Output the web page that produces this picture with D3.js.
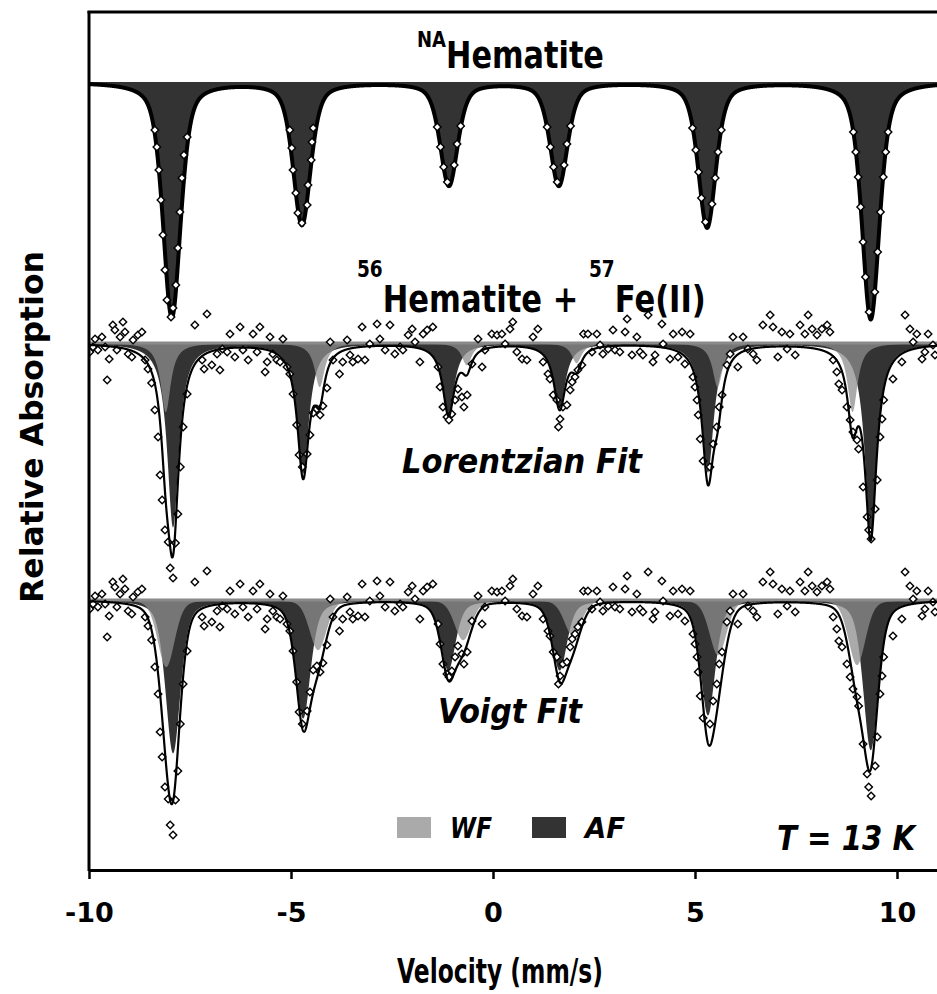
<!DOCTYPE html>
<html><head><meta charset="utf-8">
<script src="https://cdn.jsdelivr.net/npm/d3@7"></script>
<style>
body{margin:0;background:#fff}
svg{display:block}
text{font-family:"DejaVu Sans","Open Sans",sans-serif;font-weight:700;fill:#000}
</style>
</head><body>
<svg id="chart" width="937" height="994"></svg>
<script>
// ---------------- data ----------------
const xTicks = [-10, -5, 0, 5, 10];
const spectrumBaselines = [78.8, 52.7, 27.0];   // relative absorption offsets (top, Lorentzian, Voigt)

// NA hematite (top) : AF sextet
const naPos   = [-7.95, -4.73, -1.09, 1.63, 5.30, 9.35];
const naDepth = [23.5, 14.2, 10.3, 10.3, 14.5, 23.7];
const naFwhm = 0.52, naEta = 0.5;

// 56Hematite + 57Fe(II), Lorentzian fit
const lorAFPos   = [-7.92, -4.70, -1.10, 1.65, 5.32, 9.35];
const lorAFDepth = [18.4, 13.0, 7.0, 6.4, 12.9, 19.0];
const lorWFPos   = [-8.10, -4.29, -0.65, 2.07, 5.56, 8.90];
const lorWFDepth = [6.9, 4.4, 2.2, 2.0, 4.4, 6.9];
const lorAFFwhm = 0.35, lorWFFwhm = 0.30;

// Voigt fit
const voiAFPos   = [-7.92, -4.70, -1.11, 1.65, 5.32, 9.35];
const voiAFDepth = [15.3, 11.8, 7.0, 7.0, 11.5, 15.0];
const voiWFPos   = [-8.09, -4.33, -0.74, 1.98, 5.57, 9.01];
const voiWFDepth = [6.7, 5.0, 4.0, 3.6, 5.5, 6.5];
const voiAFFwhm = 0.44, voiAFEta = 0.5, voiWFFwhm = 0.50, voiWFEta = 0.25;

// measured points, top spectrum [velocity, absorption]
const naData = [
 [-8.37,4.8],[-8.32,6.5],[-8.27,8.8],[-8.22,11.8],[-8.17,15.3],[-8.12,18.8],[-8.07,21.8],[-7.97,23.5],
 [-7.92,22.6],[-7.85,20.3],[-7.80,16.6],[-7.75,13.0],[-7.70,9.6],[-7.65,7.3],[-7.57,5.5],
 [-5.03,4.8],[-4.98,6.6],[-4.95,8.8],[-4.88,11.1],[-4.83,13.1],[-4.73,14.1],[-4.60,12.3],[-4.58,10.3],[-4.50,7.8],[-4.48,6.0],[-4.45,4.6],
 [-1.38,4.5],[-1.30,6.5],[-1.22,8.5],[-1.13,10.0],[-0.96,8.3],[-0.89,6.2],[-0.80,4.4],
 [1.34,4.5],[1.42,6.5],[1.50,8.5],[1.59,10.0],[1.76,8.3],[1.83,6.2],[1.92,4.4],
 [4.94,4.6],[5.02,6.8],[5.09,9.0],[5.16,11.6],[5.26,14.0],[5.42,12.2],[5.50,9.6],[5.57,7.0],[5.65,4.8],
 [8.92,5.0],[8.98,7.0],[9.04,9.5],[9.10,12.5],[9.16,16.0],[9.22,19.5],[9.31,23.0],[9.45,21.0],[9.52,17.0],[9.59,13.0],[9.66,9.5],[9.72,7.0],[9.78,5.0]
];

// measured points, 56Hematite + 57Fe(II) [velocity, absorption]
const hemData = [
 [-9.98,0.9],[-9.90,0.4],[-9.85,-0.4],[-9.78,0.7],[-9.68,-0.6],[-9.60,0.4],[-9.55,3.7],[-9.50,1.6],
 [-9.41,-1.8],[-9.36,-1.3],[-9.31,0.7],[-9.23,-0.6],[-9.16,-2.1],[-9.11,-1.1],[-9.03,1.1],[-8.94,1.4],
 [-8.91,-0.3],[-8.79,-0.8],[-8.69,-1.1],[-8.61,1.7],[-8.54,2.6],[-8.45,4.0],[-8.37,6.7],[-8.29,9.4],
 [-8.24,13.2],[-8.19,15.7],[-8.12,18.7],[-8.04,19.9],[-7.99,22.5],[-7.92,23.5],[-7.86,20.0],[-7.80,17.1],
 [-7.74,12.4],[-7.67,8.4],[-7.57,5.1],[-7.38,-1.8],[-7.20,1.7],[-7.15,2.6],[-7.08,-2.9],[-6.96,2.2],
 [-6.83,1.1],[-6.76,2.7],[-6.70,0.6],[-6.58,0.9],[-6.51,-0.9],[-6.39,1.4],[-6.26,-1.6],[-6.19,0.7],
 [-6.06,1.7],[-5.94,-0.9],[-5.84,0.9],[-5.77,-1.6],[-5.64,2.9],[-5.59,1.9],[-5.52,-0.6],[-5.45,1.1],
 [-5.35,1.7],[-5.27,1.9],[-5.20,-0.4],[-5.10,2.4],[-5.03,3.1],[-4.95,5.1],[-4.86,8.2],[-4.80,11.2],
 [-4.72,12.4],[-4.60,11.1],[-4.53,9.2],[-4.45,7.0],[-4.36,6.6],[-4.28,7.2],[-4.21,6.3],[-4.11,4.5],
 [-4.03,-0.1],[-3.96,1.7],[-3.80,3.1],[-3.72,1.9],[-3.61,-0.3],[-3.54,1.2],[-3.47,1.9],[-3.34,1.6],
 [-3.24,-1.6],[-3.17,1.7],[-3.05,0.1],[-2.87,-1.9],[-2.80,-0.4],[-2.67,0.7],[-2.55,-1.8],[-2.43,1.1],
 [-2.30,0.4],[-2.23,0.7],[-2.10,-0.8],[-2.00,-1.4],[-1.93,-0.1],[-1.81,1.9],[-1.73,-0.9],[-1.63,-1.3],
 [-1.49,-1.6],[-1.36,2.4],[-1.31,4.4],[-1.24,6.4],[-1.14,7.4],[-1.09,7.7],[-1.02,7.1],[-0.94,5.7],
 [-0.87,4.6],[-0.77,5.4],[-0.72,6.4],[-0.64,5.2],[-0.52,2.1],[-0.37,-0.4],[-0.27,2.4],[-0.20,0.7],
 [-0.03,-0.9],[0.10,-0.8],[0.22,-0.9],[0.30,0.1],[0.42,-1.4],[0.49,-2.1],[0.59,0.9],[0.72,1.6],
 [0.84,1.7],[0.99,-0.6],[1.11,-1.4],[1.24,1.9],[1.36,3.1],[1.41,3.6],[1.49,5.2],[1.58,5.7],
 [1.62,8.4],[1.66,7.6],[1.73,6.4],[1.83,6.2],[1.91,4.7],[1.96,3.9],[2.03,3.4],[2.10,2.7],
 [2.20,2.2],[2.24,-0.9],[2.35,-0.9],[2.45,0.9],[2.57,-0.9],[2.65,0.2],[2.72,1.1],[2.85,0.6],
 [2.97,-1.3],[3.02,0.7],[3.14,0.9],[3.27,-1.1],[3.32,-2.4],[3.44,1.2],[3.56,-0.6],[3.64,0.9],
 [3.71,1.2],[3.84,-2.8],[3.96,1.9],[4.01,1.2],[4.18,-1.9],[4.21,0.1],[4.38,1.6],[4.46,-0.9],
 [4.58,1.4],[4.68,-1.1],[4.75,2.1],[4.88,-0.9],[4.95,3.4],[5.00,4.4],[5.05,5.7],[5.08,7.2],
 [5.13,9.6],[5.20,11.8],[5.37,12.4],[5.45,10.1],[5.54,8.4],[5.60,6.4],[5.67,5.2],[5.79,2.2],
 [5.87,1.1],[5.94,-0.6],[6.06,2.4],[6.19,-0.6],[6.31,0.6],[6.44,1.1],[6.53,1.7],[6.68,-1.8],
 [6.86,-2.8],[6.93,-1.6],[7.05,1.4],[7.15,-1.1],[7.28,0.6],[7.35,-0.9],[7.48,1.2],[7.60,-1.8],
 [7.72,-0.9],[7.80,-2.8],[7.90,-1.4],[8.02,-0.8],[8.14,-1.4],[8.27,-1.8],[8.34,-1.1],[8.42,1.7],
 [8.51,2.9],[8.56,4.1],[8.64,4.7],[8.76,6.4],[8.84,7.7],[8.91,8.9],[9.01,9.7],[9.05,10.6],
 [9.16,14.4],[9.26,17.4],[9.30,18.7],[9.36,19.6],[9.46,16.6],[9.51,13.7],[9.58,9.4],[9.63,7.6],
 [9.67,5.7],[9.90,3.6],[10.12,1.9],[10.20,-2.8],[10.32,-1.4],[10.40,-0.1],[10.49,-0.9],[10.62,1.6],
 [10.69,0.9],[10.77,-0.9],[10.89,0.2],[10.94,1.2]
];

const legendItems = ["WF", "AF"];

// ---------------- chart ----------------
const svg = d3.select("#chart");
const x = d3.scaleLinear().domain([-10, 11]).range([89, 937.4]);
const y = d3.scaleLinear().domain([0, 85.8]).range([870, 12]);

const grid = d3.range(-10.3, 11.3, 0.004);
function profile(pos, depth, fwhm, eta) {
  return v => {
    let s = 0;
    for (let i = 0; i < pos.length; i++) {
      const t = (v - pos[i]) / (fwhm / 2);
      s += depth[i] * (eta / (1 + t * t) + (1 - eta) * Math.exp(-Math.LN2 * t * t));
    }
    return s;
  };
}

svg.append("defs").append("clipPath").attr("id", "plotclip")
  .append("rect").attr("x", 89).attr("y", 12).attr("width", 937 - 89).attr("height", 870 - 12);
const plot = svg.append("g").attr("clip-path", "url(#plotclip)");

const AF_COLOR = "#333333", WF_COLOR = "#8e8e8e", WF_OPACITY = 0.75;
const diamond = d3.symbol().type(d3.symbolSquare).size(28);

function drawArea(base, f, fill, opacity) {
  const area = d3.area().x(v => x(v)).y0(y(base)).y1(v => y(base - f(v)));
  plot.append("path").datum(grid).attr("d", area).attr("fill", fill).attr("fill-opacity", opacity);
}
function drawLine(base, f, width, color) {
  const line = d3.line().x(v => x(v)).y(v => y(base - f(v)));
  plot.append("path").datum(grid).attr("d", line).attr("fill", "none")
    .attr("stroke", color).attr("stroke-width", width).attr("stroke-linejoin", "round");
}
function drawPoints(base, data) {
  plot.append("g").selectAll("path").data(data).join("path")
    .attr("d", diamond)
    .attr("transform", d => `translate(${x(d[0])},${y(base - d[1])}) rotate(45)`)
    .attr("fill", "#fff").attr("stroke", "#000").attr("stroke-width", 1.4);
}
function drawBaseline(base) {
  plot.append("line").attr("x1", x(-10.5)).attr("x2", x(11.5))
    .attr("y1", y(base)).attr("y2", y(base)).attr("stroke", "#8a8a8a").attr("stroke-width", 3);
}

// top spectrum
{
  const b = spectrumBaselines[0];
  const f = profile(naPos, naDepth, naFwhm, naEta);
  drawArea(b, f, AF_COLOR, 1);
  drawLine(b, f, 4, "#000");
  drawPoints(b, naData);
}
// Lorentzian
{
  const b = spectrumBaselines[1];
  const af = profile(lorAFPos, lorAFDepth, lorAFFwhm, 1);
  const wf = profile(lorWFPos, lorWFDepth, lorWFFwhm, 1);
  drawArea(b, af, AF_COLOR, 1);
  drawArea(b, wf, WF_COLOR, WF_OPACITY);
  drawBaseline(b);
  drawPoints(b, hemData);
  drawLine(b, v => af(v) + wf(v), 2.2, "#000");
}
// Voigt
{
  const b = spectrumBaselines[2];
  const af = profile(voiAFPos, voiAFDepth, voiAFFwhm, voiAFEta);
  const wf = profile(voiWFPos, voiWFDepth, voiWFFwhm, voiWFEta);
  drawArea(b, af, AF_COLOR, 1);
  drawArea(b, wf, WF_COLOR, WF_OPACITY);
  drawBaseline(b);
  drawPoints(b, hemData);
  drawLine(b, v => af(v) + wf(v), 2.2, "#000");
}

// axes
const xAxis = d3.axisBottom(x).tickValues(xTicks).tickSize(9).tickSizeOuter(0).tickPadding(14)
  .tickFormat(d => String(d));
const gx = svg.append("g").attr("transform", "translate(0,870)").call(xAxis);
gx.attr("font-family", null).attr("font-size", null);
gx.select(".domain").attr("stroke-width", 3).attr("stroke", "#000");
gx.selectAll(".tick line").attr("stroke-width", 2.5).attr("stroke", "#000");
gx.selectAll(".tick text").attr("dy", null).attr("y", 52)
  .style("font-size", "27px").style("font-family", '"DejaVu Sans","Open Sans",sans-serif').style("font-weight", 700);

svg.append("line").attr("x1", 89).attr("x2", 89).attr("y1", 11).attr("y2", 871)
  .attr("stroke", "#000").attr("stroke-width", 3);
svg.append("line").attr("x1", 87.5).attr("x2", 937).attr("y1", 12).attr("y2", 12)
  .attr("stroke", "#000").attr("stroke-width", 3);

// titles with superscripts: one text each, squeezed horizontally to the reference width
function superTitle(parts, x0, width, baseY, mainSize, supSize, supRise) {
  const g = svg.append("g");
  const t = g.append("text").attr("x", 0).attr("y", baseY);
  let cur = 0;
  parts.forEach(p => {
    const shift = (p.sup ? -supRise : 0) - cur;
    cur += shift;
    t.append("tspan").attr("dy", shift).style("font-size", (p.sup ? supSize : mainSize) + "px")
      .text(p.text);
  });
  const bb = t.node().getBBox();
  const s = width / bb.width;
  g.attr("transform", `translate(${x0 - bb.x * s},0) scale(${s},1)`);
}
superTitle([{text: "NA", sup: true}, {text: "Hematite"}], 417, 187, 68, 37, 22, 21);
superTitle([{text: "56", sup: true}, {text: "Hematite + "}, {text: "57", sup: true}, {text: "Fe(II)"}],
  357, 349, 312, 38, 23, 35);

function txt(t, xx, yy, size, opts = {}) {
  const e = svg.append("text").attr("x", xx).attr("y", yy).style("font-size", size + "px").text(t);
  if (opts.italic) e.style("font-style", "italic");
  if (opts.len) e.attr("textLength", opts.len).attr("lengthAdjust", "spacingAndGlyphs");
  if (opts.anchor) e.attr("text-anchor", opts.anchor);
  return e;
}
txt("Lorentzian Fit", 402, 473, 33, {italic: true, len: 240});
txt("Voigt Fit", 438, 723, 33, {italic: true, len: 144});
txt("T = 13 K", 777, 850, 33, {italic: true, len: 138});

// legend
const legendX = [397, 532];
const legendColors = ["#aaaaaa", AF_COLOR];
legendItems.forEach((name, i) => {
  svg.append("rect").attr("x", legendX[i]).attr("y", 817).attr("width", 34).attr("height", 21)
    .attr("fill", legendColors[i]);
  txt(name, legendX[i] + 53, 838, 29, {italic: true, len: i === 0 ? 42 : 40});
});

// axis titles
txt("Velocity (mm/s)", 500, 983, 33, {anchor: "middle", len: 206});
svg.append("text").attr("transform", "translate(43,427) rotate(-90)").attr("text-anchor", "middle")
  .attr("textLength", 352).attr("lengthAdjust", "spacingAndGlyphs")
  .style("font-size", "32px").text("Relative Absorption");
</script>
</body></html>
